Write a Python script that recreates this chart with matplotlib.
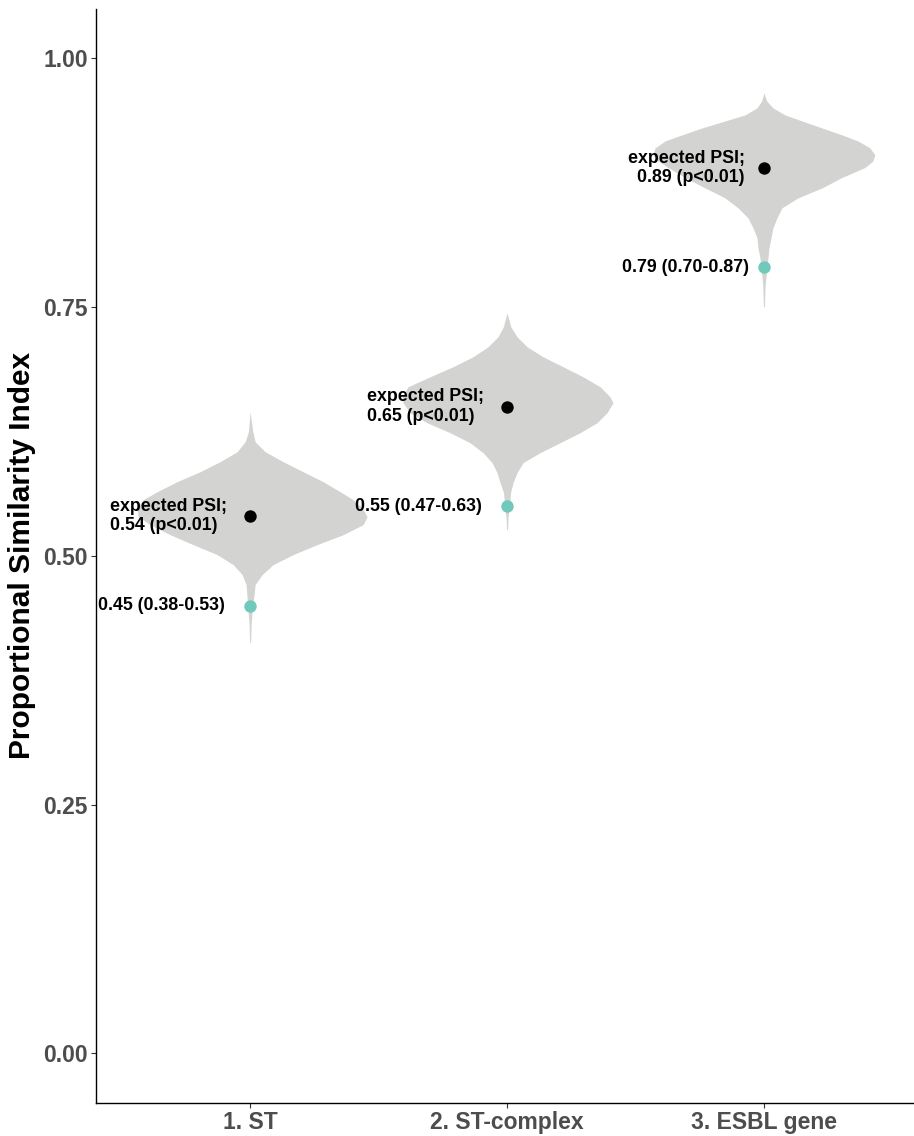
import numpy as np
import matplotlib
matplotlib.use("Agg")
import matplotlib.pyplot as plt

plt.rcParams['font.family'] = ['Liberation Sans', 'DejaVu Sans']

# Categories and summary values
categories = ["1. ST", "2. ST-complex", "3. ESBL gene"]
expected_psi = [0.54, 0.65, 0.89]
observed_psi = [0.45, 0.55, 0.79]
observed_ci = ["0.38-0.53", "0.47-0.63", "0.70-0.87"]
p_labels = ["p<0.01", "p<0.01", "p<0.01"]

# Violin outlines: PSI level and half-widths (left, right) of the expected distribution
st_y = [0.6448, 0.6247, 0.6146, 0.6046, 0.5946, 0.5845, 0.5745, 0.5644, 0.5564, 0.5484, 0.5393,
        0.5313, 0.5212, 0.5112, 0.5012, 0.4911, 0.4811, 0.4710, 0.4610, 0.4509, 0.4308, 0.4128]
st_left = [0.0, 0.0066, 0.0195, 0.0506, 0.1167, 0.1946, 0.2840, 0.3619, 0.4163, 0.4397, 0.4358,
           0.3891, 0.3113, 0.2218, 0.1284, 0.0661, 0.0311, 0.0156, 0.0128, 0.0097, 0.0039, 0.0019]
st_right = [0.0, 0.0104, 0.0195, 0.0584, 0.1284, 0.2062, 0.2840, 0.3502, 0.4008, 0.4358, 0.4553,
            0.4397, 0.3619, 0.2607, 0.1673, 0.0895, 0.0467, 0.0195, 0.0156, 0.0097, 0.0039, 0.0019]

stc_y = [0.7442, 0.7302, 0.7201, 0.7101, 0.7000, 0.6900, 0.6799, 0.6699, 0.6598, 0.6538, 0.6438,
         0.6337, 0.6237, 0.6136, 0.6036, 0.5936, 0.5835, 0.5735, 0.5634, 0.5504, 0.5383, 0.5263]
stc_left = [0.0, 0.0144, 0.0350, 0.0739, 0.1323, 0.2101, 0.2996, 0.3852, 0.4086, 0.4047, 0.3774,
            0.3113, 0.2218, 0.1440, 0.0934, 0.0584, 0.0389, 0.0272, 0.0136, 0.0097, 0.0039, 0.0019]
stc_right = [0.0, 0.0144, 0.0389, 0.0778, 0.1401, 0.2179, 0.2957, 0.3619, 0.4008, 0.4125, 0.3891,
             0.3502, 0.2840, 0.2062, 0.1284, 0.0623, 0.0389, 0.0233, 0.0136, 0.0097, 0.0039, 0.0019]

esbl_y = [0.9652, 0.9571, 0.9501, 0.9431, 0.9370, 0.9300, 0.9230, 0.9169, 0.9099, 0.9029, 0.8969, 0.8902,
          0.8802, 0.8697, 0.8597, 0.8497, 0.8396, 0.8296, 0.8195, 0.8095, 0.7994, 0.7904, 0.7723, 0.7503]
esbl_left = [0.0, 0.0089, 0.0272, 0.0739, 0.1518, 0.2412, 0.3191, 0.3852, 0.4241, 0.4319, 0.4125, 0.3735,
             0.3074, 0.2296, 0.1518, 0.1012, 0.0623, 0.0428, 0.0272, 0.0233, 0.0156, 0.0117, 0.0047, 0.0019]
esbl_right = [0.0, 0.0105, 0.0350, 0.0817, 0.1479, 0.2257, 0.3035, 0.3658, 0.4125, 0.4319, 0.4241, 0.3930,
              0.3035, 0.2257, 0.1323, 0.0700, 0.0506, 0.0350, 0.0272, 0.0195, 0.0156, 0.0117, 0.0047, 0.0019]

violins = [(st_y, st_left, st_right), (stc_y, stc_left, stc_right), (esbl_y, esbl_left, esbl_right)]

VIOLIN_GREY = "#d3d4d2"
TEAL = "#71c9bb"
TICK_GREY = "#4d4d4d"

fig = plt.figure(figsize=(9.14, 11.36), dpi=100)
ax = fig.add_axes([0.105, 0.029, 0.895, 0.9635])

xpos = np.arange(1, len(categories) + 1)

for cx, (vy, vl, vr) in zip(xpos, violins):
    vy = np.asarray(vy)
    ax.fill_betweenx(vy, cx - np.asarray(vl), cx + np.asarray(vr),
                     color=VIOLIN_GREY, lw=0, zorder=1)

ax.scatter(xpos, expected_psi, s=80, color="black", zorder=3, linewidths=0)
ax.scatter(xpos, observed_psi, s=80, color=TEAL, zorder=3, linewidths=0)

# Expected PSI annotations
exp_offsets = [(-0.545, "left"), (-0.545, "left"), (-0.074, "right")]
for cx, val, p, (dx, ha) in zip(xpos, expected_psi, p_labels, exp_offsets):
    ax.text(cx + dx, val, f"expected PSI;\n{val:.2f} ({p})", ha=ha, va="center",
            multialignment=ha, fontsize=12.8, fontweight="bold", color="black",
            linespacing=1.18, zorder=4)

# Observed PSI annotations
obs_offsets = [-0.097, -0.098, -0.058]
for cx, val, ci, dx in zip(xpos, observed_psi, observed_ci, obs_offsets):
    ax.text(cx + dx, val, f"{val:.2f} ({ci})", ha="right", va="center",
            fontsize=12.8, fontweight="bold", color="black", zorder=4)

ax.set_xlim(0.4, 3.584)
ax.set_ylim(-0.05, 1.05)
ax.set_xticks(xpos)
ax.set_xticklabels(categories)
ax.set_yticks([0.0, 0.25, 0.5, 0.75, 1.0])
ax.set_yticklabels(["0.00", "0.25", "0.50", "0.75", "1.00"])

for lab in ax.get_xticklabels() + ax.get_yticklabels():
    lab.set_fontsize(16.5)
    lab.set_fontweight("bold")
    lab.set_color(TICK_GREY)

ax.tick_params(axis="both", length=3.5, width=0.8, color="#333333", pad=2.5)
ax.spines["top"].set_visible(False)
ax.spines["right"].set_visible(False)
ax.spines["left"].set_linewidth(1.0)
ax.spines["bottom"].set_linewidth(1.0)

ax.set_ylabel("Proportional Similarity Index", fontsize=21.5, fontweight="bold",
              color="black", labelpad=5)

fig.savefig("out.png", dpi=100)
